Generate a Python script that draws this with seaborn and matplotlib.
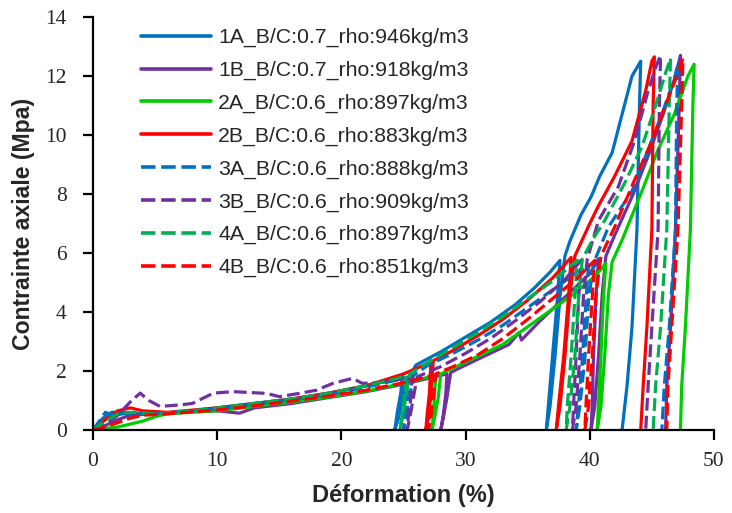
import matplotlib
matplotlib.use("Agg")
import matplotlib.pyplot as plt
import seaborn as sns
import pandas as pd

# ---------------- data ----------------
labels = ["1A_B/C:0.7_rho:946kg/m3", "1B_B/C:0.7_rho:918kg/m3",
          "2A_B/C:0.6_rho:897kg/m3", "2B_B/C:0.6_rho:883kg/m3",
          "3A_B/C:0.6_rho:888kg/m3", "3B_B/C:0.6_rho:909kg/m3",
          "4A_B/C:0.6_rho:897kg/m3", "4B_B/C:0.6_rho:851kg/m3"]

strain_1A = [0, 0.8, 1.5, 2.5, 4, 6, 8, 10, 13, 16, 19, 22, 24, 24.9,
             24.8, 24.5, 24.3, 24.6, 24.9, 25.1, 26, 28, 30, 32, 34, 35.5, 36.8, 37.6,
             37.4, 37.0, 36.7, 36.5, 36.8, 37.2, 37.6, 38.0, 38.4, 39.3, 40.1, 40.8,
             41.8, 42.6, 43.4, 44.1, 44.0, 43.8, 43.4, 43.0, 42.6]
stress_1A = [0, 0.4, 0.6, 0.6, 0.55, 0.55, 0.65, 0.75, 0.9, 1.05, 1.25, 1.5, 1.7, 1.85,
             1.3, 0.6, 0, 0.4, 1.0, 1.5, 2.2, 2.65, 3.15, 3.65, 4.25, 4.8, 5.35, 5.75,
             4.5, 2.5, 1.0, 0, 0.8, 2.5, 4.5, 5.9, 6.4, 7.3, 7.9, 8.6,
             9.4, 10.7, 12.0, 12.5, 11.0, 6.8, 3.5, 1.5, 0]

strain_1B = [0, 1, 2, 3, 5, 8, 10, 11.8, 13, 16, 19, 22, 25, 28, 28.5,
             28.4, 28.2, 28.0, 28.2, 28.5, 28.8, 30, 32, 33.5, 34.3, 34.5, 36, 38, 40, 40.7,
             40.5, 40.3, 40.2, 40.1, 40.4, 40.7, 41.0, 41.3, 42, 43.5, 44.8, 45.9, 46.9, 47.3,
             47.2, 46.9, 46.5, 46.2, 46.1]
stress_1B = [0, 0.15, 0.35, 0.5, 0.55, 0.62, 0.65, 0.57, 0.75, 0.9, 1.1, 1.3, 1.55, 1.85, 1.9,
             1.2, 0.5, 0, 0.4, 1.1, 1.95, 2.2, 2.6, 2.9, 3.3, 3.05, 3.7, 4.5, 5.3, 5.8,
             4.5, 2.5, 0.9, 0, 0.8, 2.5, 4.6, 5.9, 6.6, 8.0, 9.4, 10.7, 12.0, 12.7,
             11.0, 6.8, 3.5, 1.5, 0]

strain_2A = [0, 1, 2, 3, 4, 5, 6, 8, 10, 13, 16, 19, 22, 25, 27.6,
             27.5, 27.4, 27.3, 27.5, 27.8, 28.0, 30, 32, 33, 35, 37, 39, 40.5, 41.3,
             41.1, 40.9, 40.7, 40.6, 40.9, 41.2, 41.5, 41.8, 42.6, 44.2, 45.5, 46.8, 47.9, 48.4,
             48.3, 48.1, 47.7, 47.4, 47.3]
stress_2A = [0, 0.05, 0.1, 0.2, 0.3, 0.45, 0.55, 0.6, 0.65, 0.8, 0.95, 1.12, 1.32, 1.58, 1.85,
             1.2, 0.5, 0, 0.4, 1.1, 1.9, 2.3, 2.7, 2.9, 3.5, 4.1, 4.7, 5.25, 5.65,
             4.5, 2.5, 0.9, 0, 0.8, 2.5, 4.6, 5.7, 6.44, 8.1, 9.5, 10.7, 12.0, 12.4,
             11.0, 6.8, 3.5, 1.5, 0]

strain_2B = [0, 1, 2, 3, 4, 6, 10, 13, 16, 19, 22, 25, 27.2,
             27.1, 26.9, 26.8, 27.0, 27.2, 27.4, 29, 31, 33, 35, 37, 38.5,
             38.3, 37.9, 37.5, 37.3, 37.6, 38.0, 38.4, 38.8, 40, 40.7, 42.0, 43.4, 44.5, 45.0, 45.2,
             45.1, 45.0, 44.6, 44.3, 44.1]
stress_2B = [0, 0.35, 0.65, 0.75, 0.65, 0.6, 0.75, 0.9, 1.05, 1.25, 1.5, 1.9, 2.3,
             1.3, 0.5, 0, 0.4, 1.2, 2.35, 2.7, 3.2, 3.75, 4.4, 5.15, 5.85,
             4.6, 2.5, 0.9, 0, 0.8, 2.5, 4.6, 5.9, 7.0, 7.6, 8.6, 9.8, 11.5, 12.5, 12.65,
             11.0, 6.8, 3.5, 1.5, 0]

strain_3A = [0, 0.5, 1, 1.5, 2.5, 5, 8, 10, 13, 16, 19, 22, 24.5, 25.4,
             25.3, 25.1, 25.0, 25.2, 25.5, 25.8, 27, 29, 31, 33, 35, 37, 39, 39.9,
             39.7, 39.4, 39.1, 38.9, 39.2, 39.6, 39.9, 40.3, 41.5, 43.4, 44.7, 45.8, 46.8, 47.1,
             47.0, 46.9, 46.4, 46.0, 45.8]
stress_3A = [0, 0.3, 0.6, 0.5, 0.55, 0.55, 0.65, 0.72, 0.88, 1.02, 1.2, 1.45, 1.7, 1.8,
             1.2, 0.5, 0, 0.4, 1.1, 1.85, 2.2, 2.6, 3.05, 3.55, 4.15, 4.75, 5.35, 5.6,
             4.4, 2.4, 0.9, 0, 0.8, 2.4, 4.4, 5.65, 6.88, 8.1, 9.5, 10.7, 11.9, 12.4,
             11.0, 6.8, 3.5, 1.5, 0]

strain_3B = [0, 1, 2, 3, 3.8, 4.5, 5.4, 7, 8, 9.7, 11.3, 14, 15, 16.6, 18, 19.3, 20.9, 21.7,
             23, 24.5, 25.7,
             25.6, 25.4, 25.3, 25.5, 25.8, 26.1, 28, 30, 32, 34, 36, 38, 39.3,
             39.1, 38.9, 38.7, 38.6, 38.9, 39.2, 39.5, 39.8, 40.7, 42.3, 43.6, 44.7, 45.4, 45.7,
             45.6, 45.5, 45.0, 44.7, 44.5]
stress_3B = [0, 0.2, 0.5, 0.95, 1.25, 1.0, 0.8, 0.85, 0.9, 1.25, 1.3, 1.24, 1.13, 1.24, 1.35, 1.58,
             1.75, 1.58, 1.6, 1.7, 1.8,
             1.1, 0.5, 0, 0.4, 1.1, 1.8, 2.15, 2.6, 3.1, 3.7, 4.35, 5.1, 5.75,
             4.5, 2.5, 0.9, 0, 0.8, 2.5, 4.6, 5.8, 7.1, 8.25, 9.8, 11.5, 12.4, 12.7,
             11.0, 6.8, 3.5, 1.5, 0]

strain_4A = [0, 1, 2, 3, 5, 8, 10, 13, 16, 19, 22, 24.5, 25.2,
             25.1, 24.9, 24.7, 24.9, 25.2, 25.5, 27, 29, 31, 33, 35, 37, 39.0,
             38.8, 38.5, 38.2, 38.1, 38.4, 38.8, 39.1, 39.4, 40.3, 41.2, 42.8, 44.2, 45.3, 46.1, 46.5,
             46.4, 46.2, 45.7, 45.3, 45.1]
stress_4A = [0, 0.3, 0.55, 0.6, 0.55, 0.65, 0.75, 0.9, 1.05, 1.25, 1.5, 1.75, 1.85,
             1.2, 0.5, 0, 0.4, 1.1, 1.9, 2.3, 2.8, 3.3, 3.85, 4.45, 5.05, 5.75,
             4.5, 2.5, 0.9, 0, 0.8, 2.5, 4.5, 5.8, 6.5, 7.1, 8.36, 9.6, 11.0, 12.1, 12.6,
             11.0, 6.8, 3.5, 1.5, 0]

strain_4B = [0, 1, 2, 3, 4, 6, 10, 13, 16, 19, 22, 25, 27.3,
             27.2, 27.1, 27.0, 27.2, 27.4, 27.6, 29, 31, 33, 35, 37, 39, 40.4,
             40.2, 39.9, 39.7, 39.6, 39.9, 40.2, 40.5, 40.9, 42.0, 43.6, 45.0, 46.1, 47.1, 47.5,
             47.4, 47.1, 46.6, 46.3, 46.2]
stress_4B = [0, 0.1, 0.25, 0.4, 0.5, 0.55, 0.68, 0.82, 0.98, 1.15, 1.35, 1.6, 1.85,
             1.2, 0.5, 0, 0.4, 1.1, 1.9, 2.15, 2.55, 3.1, 3.75, 4.45, 5.15, 5.75,
             4.5, 2.5, 0.9, 0, 0.8, 2.5, 4.6, 5.9, 6.88, 8.47, 9.8, 11.0, 12.1, 12.6,
             11.0, 6.8, 3.5, 1.5, 0]

colors = ["#0070C0", "#7030A0", "#00CC00", "#FF0000",
          "#0070C0", "#7030A0", "#00B050", "#FF0000"]
dashed = [False, False, False, False, True, True, True, True]

strains = [strain_1A, strain_1B, strain_2A, strain_2B, strain_3A, strain_3B, strain_4A, strain_4B]
stresses = [stress_1A, stress_1B, stress_2A, stress_2B, stress_3A, stress_3B, stress_4A, stress_4B]

frames = []
for lab, xs, ys in zip(labels, strains, stresses):
    frames.append(pd.DataFrame({"strain": xs, "stress": ys, "serie": lab}))
df = pd.concat(frames, ignore_index=True)

# ---------------- plot ----------------
sns.set_theme(style="ticks")
plt.rcParams['font.family'] = ['Liberation Sans', 'DejaVu Sans']

fig = plt.figure(figsize=(7.32, 5.13), dpi=100)
ax = fig.add_axes([0.127, 0.1618, 0.8484, 0.8051])

palette = dict(zip(labels, colors))
dash_map = {lab: ((4, 1.6) if d else "") for lab, d in zip(labels, dashed)}
sns.lineplot(data=df, x="strain", y="stress", hue="serie", style="serie",
             palette=palette, dashes=dash_map, sort=False, estimator=None,
             linewidth=2.3, ax=ax, legend=True)

ax.set_xlim(0, 50)
ax.set_ylim(0, 14)
ax.set_xticks([0, 10, 20, 30, 40, 50])
ax.set_yticks([0, 2, 4, 6, 8, 10, 12, 14])
for s in ["top", "right"]:
    ax.spines[s].set_visible(False)
for s in ["left", "bottom"]:
    ax.spines[s].set_color("black")
    ax.spines[s].set_linewidth(1.6)
ax.tick_params(axis="both", direction="out", length=7, width=1.6, color="black",
               labelsize=15.5)
ax.tick_params(axis="x", pad=9)
ax.tick_params(axis="y", pad=12)
for lab in ax.get_xticklabels() + ax.get_yticklabels():
    lab.set_fontfamily("Liberation Serif")

ax.set_xlabel("Déformation (%)", fontsize=17, fontweight="bold", labelpad=9)
ax.set_ylabel("Contrainte axiale (Mpa)", fontsize=16.6, fontweight="bold", labelpad=7)

leg = ax.legend(loc="upper left", bbox_to_anchor=(0.077, 0.973), frameon=False,
                fontsize=15.3, handlelength=3.3, handletextpad=0.35,
                labelspacing=0.64, borderpad=0, borderaxespad=0)
for line in leg.get_lines():
    line.set_linewidth(2.6)

fig.savefig("out.png", dpi=100)
